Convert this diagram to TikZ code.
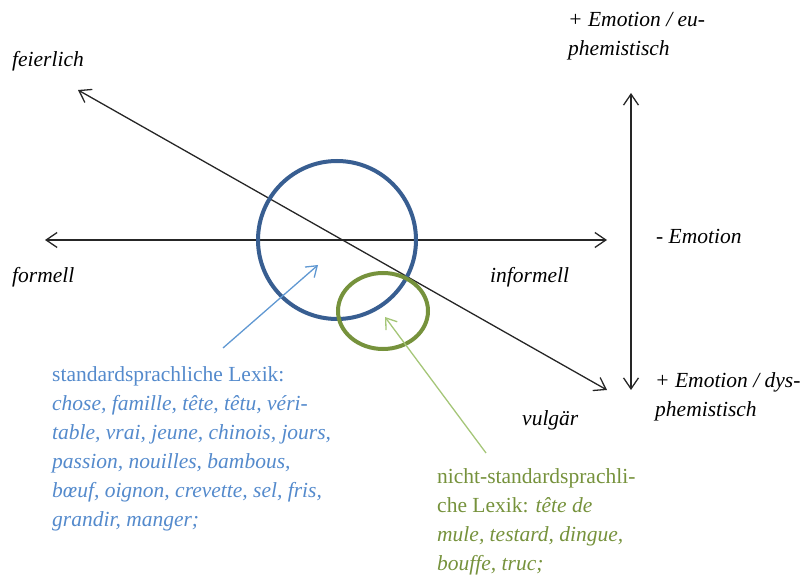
\documentclass[tikz,border=0pt]{standalone}
\usepackage{fontspec}
\setmainfont{Liberation Serif}
\usepackage{xcolor}
\usepackage{tikz}
\usetikzlibrary{arrows.meta, positioning, calc}
\definecolor{kreisblau}{RGB}{56,94,145}
\definecolor{textblau}{RGB}{84,138,204}
\definecolor{pfeilblau}{RGB}{96,152,210}
\definecolor{kreisgruen}{RGB}{118,146,60}
\definecolor{pfeilgruen}{RGB}{165,198,120}
\tikzset{>={Straight Barb[length=11pt,width=15pt]},
  achse/.style={<->, line width=1.3pt, black!85},
  zeiger/.style={->, line width=1.3pt, >={Straight Barb[length=10pt,width=14pt]}},
  etikett/.style={inner sep=0pt, anchor=base west, align=left,
    font=\fontsize{21.5}{29}\selectfont\itshape}}

\begin{document}
\begin{tikzpicture}[x=1pt, y=-1pt]
    \useasboundingbox (0,0) rectangle (809,577);
    % axes end points
    \coordinate (feier) at (78,90);
    \coordinate (vulg) at (607,390);
    \coordinate (links) at (45,240);
    \coordinate (rechts) at (607,240);
    \coordinate (oben) at (631,93);
    \coordinate (unten) at (631,390);
    % axes
    \draw[achse] (links) -- (rechts);
    \draw[achse] (feier) -- (vulg);
    \draw[achse] (oben) -- (unten);
    % circles
    \draw[kreisblau, line width=4pt] (337,240) circle[radius=79];
    \draw[kreisgruen, line width=4pt] (383,311) ellipse[x radius=45, y radius=38];
    % axis labels (base = last line)
    \node[etikett] (lfeier) at (12,67) {feierlich};
    \node[etikett] (lformell) at (12,283) {formell};
    \node[etikett] (linformell) at (490,283) {informell};
    \node[etikett] (lvulgaer) at (522,425) {vulgär};
    \node[etikett] (lminus) at (656,244) {- Emotion};
    \node[etikett] (leu) at (568,56) {+ Emotion / eu-\\phemistisch};
    \node[etikett] (ldys) at (655,417) {+ Emotion / dys-\\phemistisch};
    % lexicon texts
    \node[etikett, textblau] (standard) at (52,526)
      {\upshape standardsprachliche Lexik:\\
       chose, famille, tête, têtu, véri-\\
       table, vrai, jeune, chinois, jours,\\
       passion, nouilles, bambous,\\
       bœuf, oignon, crevette, sel, fris,\\
       grandir, manger;};
    \node[etikett, kreisgruen] (nicht) at (437,570)
      {\upshape nicht-standardsprachli-\\
       \upshape che Lexik: \itshape tête de\\
       mule, testard, dingue,\\
       bouffe, truc;};
    % pointers
    \coordinate (sfuss) at (223,348);
    \coordinate (sspitze) at (318,265);
    \coordinate (nfuss) at (486,453);
    \coordinate (nspitze) at (385,317);
    \draw[zeiger, pfeilblau] (sfuss) -- (sspitze);
    \draw[zeiger, pfeilgruen] (nfuss) -- (nspitze);
\end{tikzpicture}
\end{document}
